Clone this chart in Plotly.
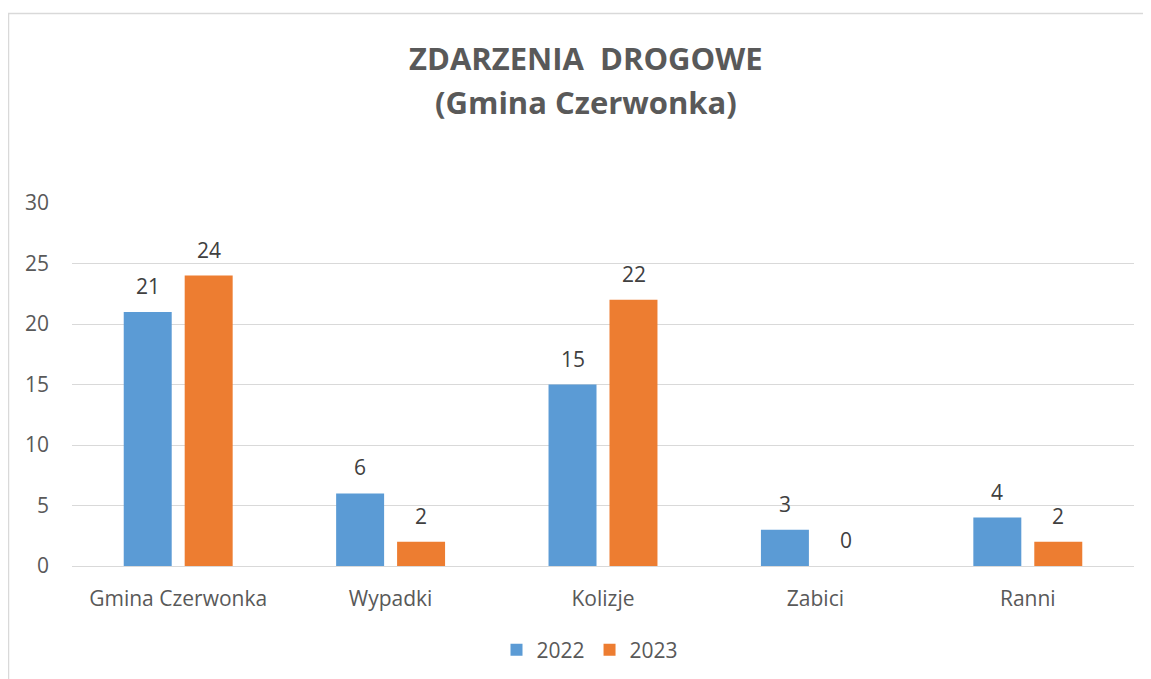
import plotly.graph_objects as go

categories = ["Gmina Czerwonka", "Wypadki", "Kolizje", "Zabici", "Ranni"]
values_2022 = [21, 6, 15, 3, 4]
values_2023 = [24, 2, 22, 0, 2]
series_names = ["2022", "2023"]
y_ticks = [0, 5, 10, 15, 20, 25, 30]

FONT = "Open Sans"
GREY = "#595959"
COLORS = ["#5B9BD5", "#ED7D31"]

# page is rendered with an 8px body margin -> figure is 8px smaller
W, H = 1143, 671
L, R, T, B = 64, 17, 195, 113
PW, PH = W - L - R, H - T - B


def px_x(page_x):
    return (page_x - 8 - L) / PW


def px_y(page_y):
    return (H - B - (page_y - 8)) / PH


fig = go.Figure()
series = [values_2022, values_2023]
for name, vals, col in zip(series_names, series, COLORS):
    fig.add_trace(go.Bar(
        x=categories, y=vals, name=name,
        marker=dict(color=col, line=dict(width=0)),
    ))

annotations = []
for si, vals in enumerate(series):
    shift = -30.5 if si == 0 else 30.5
    for c, v in zip(categories, vals):
        annotations.append(dict(
            x=c, y=v, xref="x", yref="y", text=str(v), showarrow=False,
            xshift=shift, yshift=26, xanchor="center", yanchor="middle",
            font=dict(family=FONT, size=21, color="#404040")))

annotations += [
    dict(text="<b>ZDARZENIA  DROGOWE</b>", xref="paper", yref="paper",
         x=px_x(586), y=px_y(58), xanchor="center", yanchor="middle",
         showarrow=False, font=dict(family=FONT, size=31, color=GREY)),
    dict(text="<b>(Gmina Czerwonka)</b>", xref="paper", yref="paper",
         x=px_x(586), y=px_y(102), xanchor="center", yanchor="middle",
         showarrow=False, font=dict(family=FONT, size=31, color=GREY)),
]

fig.update_layout(
    width=W, height=H,
    margin=dict(l=L, r=R, t=T, b=B, autoexpand=False),
    paper_bgcolor="white", plot_bgcolor="white",
    barmode="group", bargap=0.426, bargroupgap=0.213,
    font=dict(family=FONT, size=21, color=GREY),
    showlegend=True,
    legend=dict(orientation="h", x=px_x(590), xanchor="center", y=px_y(650),
                yanchor="middle", font=dict(family=FONT, size=21, color=GREY),
                itemwidth=30, traceorder="normal"),
    xaxis=dict(showgrid=False, showline=True, linecolor="#D9D9D9", linewidth=1,
               ticks="", tickfont=dict(size=21, color=GREY), ticklabelstandoff=14,
               automargin=False),
    yaxis=dict(range=[0, 30], tickvals=y_ticks, showgrid=True, gridcolor="#D9D9D9",
               gridwidth=1, zeroline=False, showline=False, ticks="",
               tickfont=dict(size=21, color=GREY), ticklabelstandoff=22,
               automargin=False),
    annotations=annotations,
    shapes=[dict(type="rect", xref="paper", yref="paper",
                 x0=px_x(8.5), x1=px_x(1175),
                 y0=px_y(700), y1=px_y(13.5),
                 line=dict(color="#D9D9D9", width=1.5), layer="below")],
)

fig.write_html("out.html")
